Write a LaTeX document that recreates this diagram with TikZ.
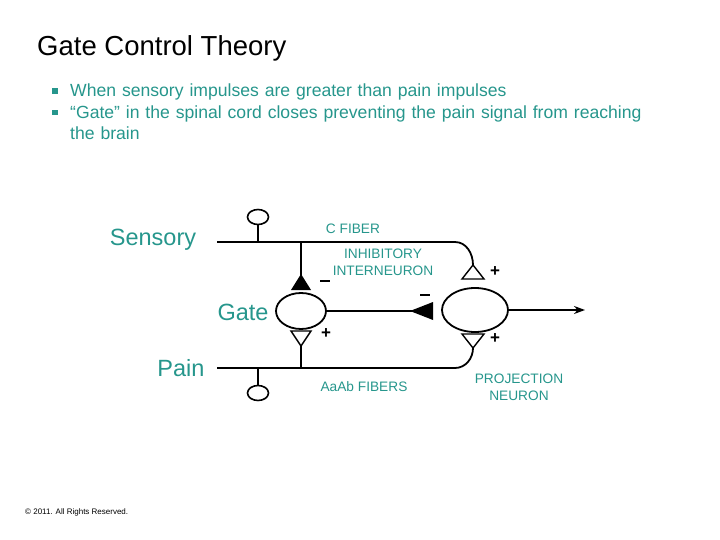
\documentclass[tikz,border=0pt]{standalone}
\usepackage{fontspec}
\setmainfont{Liberation Sans}
\usetikzlibrary{shapes.geometric,arrows.meta}
\definecolor{tl}{RGB}{38,150,140}
\newcommand{\mybul}{\makebox[18pt][l]{\raisebox{3pt}{\rule{5.5pt}{5.5pt}}}}
\begin{document}
\begin{tikzpicture}[x=1pt,y=-1pt,
  ln/.style={line width=1.8pt},
  lab/.style={text=tl,font=\fontsize{13.7}{17}\selectfont,inner sep=0pt},
  big/.style={text=tl,font=\fontsize{23.5}{28}\selectfont,inner sep=0pt},
  sym/.style={font=\bfseries\fontsize{17}{17}\selectfont,inner sep=0pt},
  cell/.style={draw,line width=1.8pt,ellipse,inner sep=0pt}]
\useasboundingbox (0,0) rectangle (720,540);
\node[anchor=west,font=\fontsize{27.5}{32}\selectfont,inner sep=0pt] (title) at (37,48) {Gate Control Theory};
\node[anchor=north west,text=tl,font=\fontsize{17.6}{21.5}\selectfont,inner sep=0pt,text width=650pt] (bul) at (52,84)
 {\mybul When sensory impulses are greater than pain impulses\\
  \mybul “Gate” in the spinal cord closes preventing the pain signal from reaching\\
  \hspace*{18pt}the brain};
% fibers
\coordinate (tl) at (217,242); \coordinate (bl) at (217,368);
\draw[ln] (tl) -- (455,242) to[out=0,in=90] (473,265);
\draw[ln] (bl) -- (455,368) to[out=0,in=-90] (473,348);
\node[draw,line width=1.6pt,ellipse,minimum width=21pt,minimum height=15pt,inner sep=0pt] (c1) at (258,217) {};
\node[draw,line width=1.6pt,ellipse,minimum width=21pt,minimum height=15pt,inner sep=0pt] (c2) at (258,393) {};
\draw[ln] (c1.south) -- (258,242);
\draw[ln] (c2.north) -- (258,368);
% cells
\node[cell,minimum width=50pt,minimum height=36pt] (g) at (301,311) {};
\node[cell,minimum width=66pt,minimum height=44pt] (p) at (475,310) {};
\draw[ln] (301,242) -- (301,276);
\fill (301,274) -- (311,290) -- (291,290) -- cycle;
\draw[line width=1.4pt] (291,331) -- (311,331) -- (301,346) -- cycle;
\draw[ln] (301,346) -- (301,368);
\draw[ln] (g.east) -- (412,311);
\fill (410,311) -- (433,302) -- (433,320) -- cycle;
\draw[line width=1.4pt] (473,265) -- (484,279) -- (462,279) -- cycle;
\draw[line width=1.4pt] (462,334) -- (484,334) -- (473,348) -- cycle;
\draw[ln,-{Stealth[length=11pt,width=8pt]}] (p.east) -- (585,310);
% signs
\node[sym] at (326,334) {+};
\node[sym] at (495,272) {+};
\node[sym] at (495,339) {+};
\node[sym] at (325,281) {\rule{10pt}{1.5pt}};
\node[sym] at (425,295) {\rule{10pt}{1.5pt}};
% labels
\node[lab] (cf) at (353,229) {C FIBER};
\node[lab,align=center] (inh) at (383,262) {INHIBITORY\\INTERNEURON};
\node[lab] (aa) at (364,387) {AaAb FIBERS};
\node[lab,align=center] (pn) at (519,387) {PROJECTION\\NEURON};
\node[big] (s) at (153,240) {Sensory};
\node[big] (gt) at (243,312) {Gate};
\node[big] (pa) at (181,368) {Pain};
\node[anchor=west,font=\fontsize{8}{9}\selectfont,inner sep=0pt] (cp) at (25,512) {© 2011. All Rights Reserved.};
\end{tikzpicture}
\end{document}
